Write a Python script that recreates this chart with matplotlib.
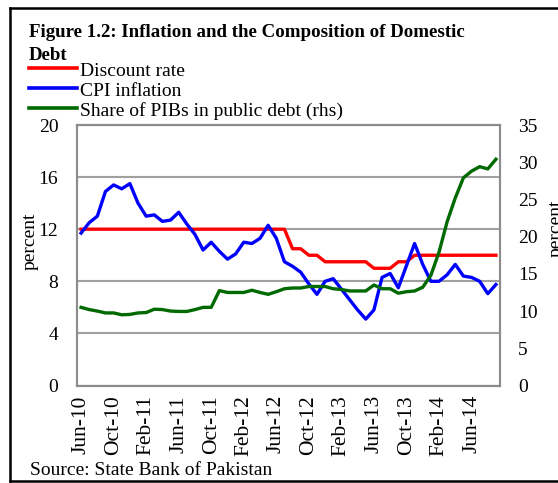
import matplotlib
matplotlib.use("Agg")
import matplotlib.pyplot as plt
from matplotlib.lines import Line2D
import numpy as np

plt.rcParams['font.family'] = ['Liberation Serif', 'DejaVu Serif']

# monthly, Jun-10 .. Sep-14
months = ["Jun-10", "Jul-10", "Aug-10", "Sep-10", "Oct-10", "Nov-10", "Dec-10",
          "Jan-11", "Feb-11", "Mar-11", "Apr-11", "May-11", "Jun-11", "Jul-11",
          "Aug-11", "Sep-11", "Oct-11", "Nov-11", "Dec-11", "Jan-12", "Feb-12",
          "Mar-12", "Apr-12", "May-12", "Jun-12", "Jul-12", "Aug-12", "Sep-12",
          "Oct-12", "Nov-12", "Dec-12", "Jan-13", "Feb-13", "Mar-13", "Apr-13",
          "May-13", "Jun-13", "Jul-13", "Aug-13", "Sep-13", "Oct-13", "Nov-13",
          "Dec-13", "Jan-14", "Feb-14", "Mar-14", "Apr-14", "May-14", "Jun-14",
          "Jul-14", "Aug-14", "Sep-14"]

discount_rate = [12, 12, 12, 12, 12, 12, 12, 12, 12, 12, 12, 12, 12, 12, 12, 12,
                 12, 12, 12, 12, 12, 12, 12, 12, 12, 12, 10.5, 10.5, 10, 10, 9.5,
                 9.5, 9.5, 9.5, 9.5, 9.5, 9, 9, 9, 9.5, 9.5, 10, 10, 10, 10, 10,
                 10, 10, 10, 10, 10, 10]

cpi_inflation = [11.7, 12.5, 13.0, 14.9, 15.4, 15.1, 15.5, 14.0, 13.0, 13.1, 12.6,
                 12.7, 13.3, 12.4, 11.6, 10.4, 11.0, 10.3, 9.7, 10.1, 11.0, 10.9,
                 11.3, 12.3, 11.3, 9.5, 9.15, 8.7, 7.8, 7.0, 8.0, 8.2, 7.4, 6.6,
                 5.8, 5.1, 5.8, 8.3, 8.6, 7.5, 9.2, 10.9, 9.3, 8.0, 8.0, 8.5, 9.3,
                 8.4, 8.3, 8.0, 7.05, 7.75]

pib_share = [10.5, 10.2, 10.0, 9.75, 9.75, 9.5, 9.55, 9.75, 9.8, 10.25, 10.2, 10.0,
             9.95, 9.95, 10.2, 10.5, 10.5, 12.75, 12.5, 12.5, 12.5, 12.8, 12.5,
             12.25, 12.6, 13.0, 13.1, 13.1, 13.3, 13.3, 13.3, 13.0, 12.9, 12.7,
             12.7, 12.7, 13.5, 13.0, 13.0, 12.4, 12.6, 12.7, 13.2, 14.8, 17.9,
             22.0, 25.2, 27.9, 28.8, 29.4, 29.1, 30.4]

left_ticks = [0, 4, 8, 12, 16, 20]
right_ticks = [0, 5, 10, 15, 20, 25, 30, 35]

RED = '#ff0000'
BLUE = '#0000ff'
GREEN = '#006a00'
FS = 14

fig = plt.figure(figsize=(5.58, 4.83), dpi=100)
W, H = 558.0, 483.0

ax = fig.add_axes([77 / W, 1 - 385.5 / H, (500 - 77) / W, (385.5 - 125) / H])
ax2 = ax.twinx()

x = np.arange(len(months))
ax.plot(x, discount_rate, color=RED, lw=2.4, zorder=3)
ax.plot(x, cpi_inflation, color=BLUE, lw=2.4, zorder=4)
ax2.plot(x, pib_share, color=GREEN, lw=2.4, zorder=3)

ax.set_xlim(-0.5, len(months) - 0.5)
ax.set_ylim(0, 20)
ax2.set_ylim(0, 35)
ax.set_yticks(left_ticks)
ax2.set_yticks(right_ticks)
ax.set_xticks(x[::4])
ax.set_xticklabels(months[::4], rotation=90, fontsize=15.5)
ax.tick_params(axis='both', length=0, colors='black')
ax.tick_params(axis='y', pad=13.5, labelsize=FS)
ax.tick_params(axis='x', pad=7)
ax2.tick_params(axis='y', length=0, labelsize=FS, pad=13)

ax.yaxis.grid(True, color='#a0a0a0', lw=1.5)
ax.set_axisbelow(True)
for a in (ax, ax2):
    for sp in a.spines.values():
        sp.set_color('#8c8c8c')
        sp.set_linewidth(1.5)

# axis titles
fig.text(30 / W, 1 - 241 / H, 'percent', rotation=90, fontsize=FS,
         ha='center', va='center')
fig.text(548 / W, 1 - 228 / H, 'percent', rotation=90, fontsize=FS,
         ha='left', va='center')

# title
fig.text(29 / W, 1 - 37 / H, 'Figure 1.2: Inflation and the Composition of Domestic',
         fontsize=13.6, fontweight='bold', va='baseline')
fig.text(29 / W, 1 - 60 / H, 'Debt', fontsize=13.6, fontweight='bold', va='baseline')

# legend
leg_items = [('Discount rate', RED), ('CPI inflation', BLUE),
             ('Share of PIBs in public debt (rhs)', GREEN)]
for i, (lab, col) in enumerate(leg_items):
    yb = 75.5 + 20 * i
    fig.add_artist(Line2D([29 / W, 77 / W], [1 - (yb - 7.5) / H] * 2,
                          color=col, lw=2.6, transform=fig.transFigure))
    fig.text(80 / W, 1 - yb / H, lab, fontsize=FS, va='baseline')

fig.text(30 / W, 1 - 475 / H, 'Source: State Bank of Pakistan', fontsize=FS,
         va='baseline')

# outer frame
fig.add_artist(Line2D([10 / W, 10 / W], [1 - 481 / H, 1 - 8 / H], color='black',
                      lw=1.8, transform=fig.transFigure))
fig.add_artist(Line2D([10 / W, 1.0], [1 - 8 / H, 1 - 8 / H], color='black',
                      lw=1.8, transform=fig.transFigure))
fig.add_artist(Line2D([10 / W, 1.0], [1 - 481 / H, 1 - 481 / H], color='black',
                      lw=1.8, transform=fig.transFigure))

fig.savefig('out.png', dpi=100)
